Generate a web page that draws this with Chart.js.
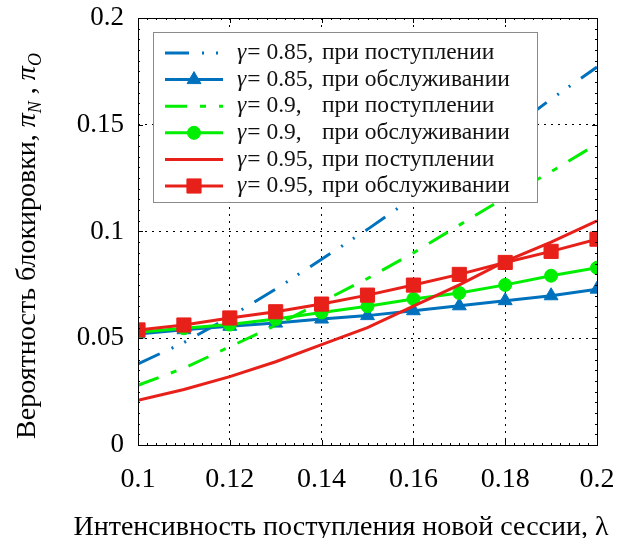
<!DOCTYPE html>
<html>
<head>
<meta charset="utf-8">
<script src="https://cdn.jsdelivr.net/npm/chart.js@4.4.1/dist/chart.umd.min.js"></script>
<style>
  html, body { margin: 0; padding: 0; background: #fff; }
  #wrap { width: 626px; height: 538px; position: relative; }
</style>
</head>
<body>
<div id="wrap"><canvas id="myChart"></canvas></div>
<script>
// lambda values (x axis)
const lambdas = [0.1, 0.11, 0.12, 0.13, 0.14, 0.15, 0.16, 0.17, 0.18, 0.19, 0.2];

// blocking probabilities
const arrival085 = [0.038, 0.048, 0.060, 0.073, 0.087, 0.101, 0.116, 0.131, 0.146, 0.162, 0.177];
const service085 = [0.052, 0.054, 0.0556, 0.0571, 0.059, 0.0606, 0.0629, 0.0652, 0.0676, 0.0699, 0.073];
const arrival09  = [0.028, 0.036, 0.046, 0.056, 0.067, 0.078, 0.090, 0.103, 0.116, 0.128, 0.141];
const service09  = [0.0528, 0.0547, 0.0564, 0.059, 0.0621, 0.065, 0.0684, 0.0712, 0.075, 0.0793, 0.083];
const arrival095 = [0.021, 0.026, 0.032, 0.039, 0.047, 0.055, 0.065, 0.075, 0.086, 0.095, 0.105];
const service095 = [0.0539, 0.0562, 0.0595, 0.0624, 0.066, 0.0702, 0.0749, 0.0799, 0.0855, 0.0907, 0.0964];

const gammas = ['0.85', '0.85', '0.9', '0.9', '0.95', '0.95'];
const modes = ['при поступлении', 'при обслуживании', 'при поступлении', 'при обслуживании', 'при поступлении', 'при обслуживании'];

const xTicks = [0.1, 0.12, 0.14, 0.16, 0.18, 0.2];
const yTicks = [0, 0.05, 0.1, 0.15, 0.2];

const BLUE = '#0072BD';
const GREEN = '#00EE00';
const RED = '#E8201A';
const FONT = "'Liberation Serif', 'Times New Roman', 'DejaVu Serif', serif";

const pts = (ys) => ys.map((y, i) => ({ x: lambdas[i], y: y }));

function series(label, ys, color, dash, pointStyle, radius, order) {
    return {
        label: label,
        data: pts(ys),
        borderColor: color,
        backgroundColor: color,
        borderWidth: 3,
        borderDash: dash,
        pointStyle: pointStyle || 'circle',
        pointRadius: radius,
        pointBackgroundColor: color,
        pointBorderColor: color,
        pointBorderWidth: 1,
        tension: 0,
        order: order
    };
}

const data = {
    datasets: [
        series('γ = 0.85, ' + modes[0], arrival085, BLUE, [24, 13, 2, 12, 2, 13], false, 0, 5),
        series('γ = 0.85, ' + modes[1], service085, BLUE, [], 'triangle', 8, 4),
        series('γ = 0.9, ' + modes[2], arrival09, GREEN, [22, 13, 6, 13], false, 0, 3),
        series('γ = 0.9, ' + modes[3], service09, GREEN, [], 'circle', 6.5, 2),
        series('γ = 0.95, ' + modes[4], arrival095, RED, [], false, 0, 1),
        series('γ = 0.95, ' + modes[5], service095, RED, [], 'rect', 10, 0)
    ]
};

const fmt = (v) => String(Number(v.toFixed(3)));

// frame, minor ticks, axis titles and the boxed legend
const decorPlugin = {
    id: 'decor',
    afterDraw(chart) {
        const ctx = chart.ctx;
        const a = chart.chartArea;
        const xs = chart.scales.x, ys = chart.scales.y;
        ctx.save();
        ctx.strokeStyle = '#000';
        ctx.lineWidth = 1;
        ctx.setLineDash([]);
        ctx.strokeRect(Math.round(a.left) + 0.5, Math.round(a.top) + 0.5, Math.round(a.right - a.left), Math.round(a.bottom - a.top));
        ctx.beginPath();
        for (let v = 0.1; v <= 0.2001; v += 0.002) {
            const px = Math.round(xs.getPixelForValue(v)) + 0.5;
            const major = Math.abs(v * 50 - Math.round(v * 50)) < 1e-6;
            const len = major ? 5 : 2;
            ctx.moveTo(px, a.bottom); ctx.lineTo(px, a.bottom - len);
            ctx.moveTo(px, a.top); ctx.lineTo(px, a.top + len);
        }
        for (let v = 0; v <= 0.2001; v += 0.005) {
            const py = Math.round(ys.getPixelForValue(v)) + 0.5;
            const major = Math.abs(v * 20 - Math.round(v * 20)) < 1e-6;
            const len = major ? 5 : 2;
            ctx.moveTo(a.left, py); ctx.lineTo(a.left + len, py);
            ctx.moveTo(a.right, py); ctx.lineTo(a.right - len, py);
        }
        ctx.stroke();

        // x title
        ctx.fillStyle = '#000';
        ctx.textBaseline = 'alphabetic';
        ctx.textAlign = 'center';
        ctx.font = '28px ' + FONT;
        ctx.fillText('Интенсивность поступления новой сессии, λ', 341, 535);

        // y title (rotated, with subscripts)
        const parts = [
            { t: 'Вероятность блокировки, ', f: '28px ' + FONT, dy: 0 },
            { t: 'π', f: 'italic 28px ' + FONT, dy: 0 },
            { t: 'N', f: 'italic 18px ' + FONT, dy: 6 },
            { t: ' , ', f: '28px ' + FONT, dy: 0 },
            { t: 'π', f: 'italic 28px ' + FONT, dy: 0 },
            { t: 'O', f: 'italic 18px ' + FONT, dy: 6 }
        ];
        let total = 0;
        parts.forEach(p => { ctx.font = p.f; p.w = ctx.measureText(p.t).width; total += p.w; });
        ctx.translate(35, 246);
        ctx.rotate(-Math.PI / 2);
        ctx.textAlign = 'left';
        let cx = -total / 2;
        parts.forEach(p => { ctx.font = p.f; ctx.fillText(p.t, cx, p.dy); cx += p.w; });
        ctx.setTransform(1, 0, 0, 1, 0, 0);

        // legend box inside the plot
        const L = a.left + 15, T = a.top + 14, W = 384, H = 170;
        ctx.fillStyle = '#fff';
        ctx.fillRect(L, T, W, H);
        ctx.strokeStyle = '#8a8a8a';
        ctx.lineWidth = 1;
        ctx.strokeRect(L + 0.5, T + 0.5, W, H);
        chart.data.datasets.forEach((ds, i) => {
            const y = T + 21 + i * 26.6;
            ctx.save();
            ctx.strokeStyle = ds.borderColor;
            ctx.lineWidth = ds.borderWidth;
            ctx.setLineDash(ds.borderDash);
            ctx.beginPath();
            ctx.moveTo(L + 12, y);
            ctx.lineTo(L + 70, y);
            ctx.stroke();
            ctx.setLineDash([]);
            if (ds.pointRadius > 0) {
                ctx.fillStyle = ds.pointBackgroundColor;
                ctx.strokeStyle = ds.pointBorderColor;
                ctx.lineWidth = 1;
                Chart.helpers.drawPoint(ctx, { pointStyle: ds.pointStyle, radius: ds.pointRadius, rotation: 0, borderWidth: 1 }, L + 41, y);
            }
            ctx.restore();
            ctx.fillStyle = '#111';
            ctx.textAlign = 'left';
            ctx.textBaseline = 'middle';
            let tx = L + 84;
            ctx.font = 'italic 23.5px ' + FONT;
            ctx.fillText('γ', tx, y);
            tx += ctx.measureText('γ').width + 1;
            ctx.font = '23.5px ' + FONT;
            ctx.fillText('= ' + gammas[i] + ',', tx, y);
            ctx.fillText(modes[i], L + 169, y);
        });
        ctx.restore();
    }
};

const options = {
    responsive: true,
    maintainAspectRatio: false,
    animation: false,
    layout: { padding: { top: 18, right: 29, left: 0, bottom: 0 } },
    plugins: { legend: { display: false }, tooltip: { enabled: false } },
    scales: {
        x: {
            type: 'linear',
            min: 0.1,
            max: 0.2,
            afterFit: (s) => { s.height = 93; s.paddingLeft = 0; s.paddingRight = 0; },
            afterBuildTicks: (s) => { s.ticks = xTicks.map(v => ({ value: v })); },
            ticks: {
                color: '#000',
                padding: 18,
                maxRotation: 0,
                font: { family: FONT, size: 28 },
                callback: (v) => fmt(v)
            },
            grid: { color: '#000', lineWidth: 1, drawTicks: false },
            border: { display: false, dash: [2, 5] }
        },
        y: {
            type: 'linear',
            min: 0,
            max: 0.2,
            afterFit: (s) => { s.width = 138; s.paddingTop = 0; s.paddingBottom = 0; },
            afterBuildTicks: (s) => { s.ticks = yTicks.map(v => ({ value: v })); },
            ticks: {
                color: '#000',
                padding: 14,
                font: { family: FONT, size: 27 },
                callback: (v) => fmt(v)
            },
            grid: { color: '#000', lineWidth: 1, drawTicks: false },
            border: { display: false, dash: [2, 5] }
        }
    }
};

new Chart(document.getElementById('myChart').getContext('2d'), {
    type: 'line',
    data: data,
    options: options,
    plugins: [decorPlugin]
});
</script>
</body>
</html>
